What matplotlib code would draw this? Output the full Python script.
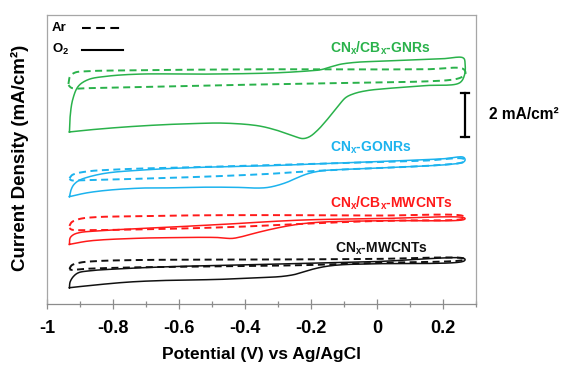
import numpy as np
import matplotlib
matplotlib.use("Agg")
import matplotlib.pyplot as plt
from matplotlib.ticker import MultipleLocator

plt.rcParams['font.family'] = ['Liberation Sans', 'DejaVu Sans']
plt.rcParams['font.weight'] = 'bold'
plt.rcParams['mathtext.fontset'] = 'custom'
plt.rcParams['mathtext.rm'] = 'Liberation Sans:bold'
plt.rcParams['mathtext.it'] = 'Liberation Sans:bold'
plt.rcParams['mathtext.bf'] = 'Liberation Sans:bold'
plt.rcParams['mathtext.default'] = 'rm'

# ---------------- data (potential V vs Ag/AgCl, current density mA/cm^2, stacked with offsets) -------------
# each loop: forward (anodic) branch left->right, then reverse (cathodic) branch right->left
GNR_O2_E = [-0.932, -0.930, -0.922, -0.905, -0.875, -0.82, -0.72, -0.52, -0.32, -0.22, -0.17, -0.14, -0.11,
            -0.06, 0.0, 0.10, 0.20, 0.262, 0.267, 0.265, 0.25, 0.15, 0.05, -0.03, -0.07, -0.095, -0.12, -0.15,
            -0.18, -0.205, -0.225, -0.25, -0.30, -0.36, -0.46, -0.56, -0.66, -0.76, -0.86, -0.932]
GNR_O2_I = [7.82, 8.5, 9.3, 9.9, 10.2, 10.35, 10.45, 10.45, 10.5, 10.58, 10.65, 10.78, 10.9,
            10.99, 11.03, 11.09, 11.15, 11.18, 10.9, 10.4, 10.05, 9.93, 9.82, 9.7, 9.56, 9.38, 8.95, 8.4,
            7.9, 7.6, 7.52, 7.62, 7.88, 8.1, 8.22, 8.2, 8.14, 8.05, 7.93, 7.82]
GNR_AR_E = [-0.935, -0.93, -0.915, -0.88, -0.76, -0.56, -0.32, -0.05, 0.15, 0.262, 0.268, 0.255, 0.23,
            0.15, -0.05, -0.35, -0.66, -0.86, -0.925, -0.935]
GNR_AR_I = [10.0, 10.35, 10.52, 10.58, 10.62, 10.65, 10.67, 10.66, 10.67, 10.68, 10.45, 10.3, 10.2,
            10.12, 10.06, 9.98, 9.88, 9.82, 9.82, 9.95]

GONR_O2_E = [-0.932, -0.928, -0.92, -0.905, -0.88, -0.82, -0.71, -0.56, -0.32, -0.20, 0.05, 0.20, 0.262,
             0.267, 0.262, 0.23, 0.05, -0.10, -0.17, -0.21, -0.24, -0.27, -0.30, -0.33, -0.36, -0.42, -0.52,
             -0.62, -0.71, -0.81, -0.88, -0.932]
GONR_O2_I = [4.88, 5.15, 5.4, 5.6, 5.75, 5.95, 6.09, 6.2, 6.29, 6.36, 6.5, 6.6, 6.67,
             6.55, 6.45, 6.36, 6.21, 6.12, 6.05, 5.92, 5.75, 5.55, 5.4, 5.3, 5.27, 5.3, 5.31,
             5.28, 5.27, 5.18, 5.05, 4.88]
GONR_AR_E = [-0.932, -0.925, -0.91, -0.87, -0.81, -0.71, -0.55, -0.31, -0.05, 0.15, 0.262, 0.267, 0.255,
             0.20, 0.10, -0.05, -0.22, -0.32, -0.50, -0.66, -0.80, -0.90, -0.925, -0.932]
GONR_AR_I = [5.72, 5.85, 5.94, 6.04, 6.1, 6.16, 6.22, 6.32, 6.43, 6.52, 6.6, 6.5, 6.42,
             6.33, 6.24, 6.15, 6.02, 5.92, 5.8, 5.72, 5.66, 5.62, 5.62, 5.68]

CBMW_O2_E = [-0.932, -0.93, -0.92, -0.90, -0.85, -0.76, -0.62, -0.42, -0.32, -0.20, 0.0, 0.262, 0.267,
             0.262, 0.05, -0.05, -0.16, -0.22, -0.27, -0.32, -0.37, -0.41, -0.44, -0.48, -0.52, -0.60,
             -0.72, -0.87, -0.932]
CBMW_O2_I = [2.71, 3.0, 3.15, 3.25, 3.32, 3.4, 3.5, 3.66, 3.75, 3.83, 3.88, 3.93, 3.88,
             3.83, 3.79, 3.77, 3.73, 3.66, 3.55, 3.4, 3.22, 3.06, 2.98, 3.02, 3.03, 3.02,
             2.99, 2.87, 2.71]
CBMW_AR_E = [-0.932, -0.925, -0.90, -0.85, -0.72, -0.55, -0.32, 0.0, 0.262, 0.267, 0.25, 0.10, -0.01,
             -0.20, -0.32, -0.50, -0.66, -0.86, -0.925, -0.932]
CBMW_AR_I = [3.55, 3.72, 3.87, 3.95, 3.99, 4.03, 4.04, 4.02, 4.0, 3.92, 3.84, 3.8, 3.77,
             3.66, 3.57, 3.47, 3.41, 3.36, 3.38, 3.45]

MW_O2_E = [-0.932, -0.93, -0.92, -0.905, -0.87, -0.78, -0.62, -0.40, -0.21, 0.0, 0.262, 0.267,
           0.262, 0.0, -0.10, -0.15, -0.19, -0.22, -0.25, -0.29, -0.35, -0.42, -0.50, -0.62, -0.75,
           -0.87, -0.932]
MW_O2_I = [0.74, 1.0, 1.25, 1.42, 1.51, 1.6, 1.7, 1.78, 1.85, 1.93, 2.08, 2.02,
           1.94, 1.83, 1.79, 1.72, 1.6, 1.47, 1.34, 1.25, 1.2, 1.15, 1.11, 1.08, 1.0,
           0.84, 0.74]
MW_AR_E = [-0.932, -0.925, -0.90, -0.85, -0.72, -0.40, -0.21, 0.0, 0.262, 0.267, 0.25, 0.0, -0.21,
           -0.50, -0.72, -0.88, -0.925, -0.932]
MW_AR_I = [1.6, 1.76, 1.88, 1.95, 2.0, 2.02, 2.03, 2.05, 2.08, 2.03, 1.97, 1.87, 1.77,
           1.71, 1.67, 1.6, 1.55, 1.58]

SAMPLES = ["CN$_x$/CB$_x$-GNRs", "CN$_x$-GONRs", "CN$_x$/CB$_x$-MWCNTs", "CN$_x$-MWCNTs"]
COLORS = ["#2ab24b", "#1cb3ee", "#ff1a1a", "#111111"]
LABEL_POS = [(-0.142, 11.62), (-0.142, 7.1), (-0.142, 4.57), (-0.127, 2.52)]
SCALE_BAR = 2.0  # mA/cm^2

XTICKS = [-1, -0.8, -0.6, -0.4, -0.2, 0, 0.2]
XTICKLABELS = ["-1", "-0.8", "-0.6", "-0.4", "-0.2", "0", "0.2"]


def smooth(x, y, n=14, sx=330.0, sy=22.0):
    P = np.column_stack([np.asarray(x) * sx, np.asarray(y) * sy])
    P = np.vstack([2 * P[0] - P[1], P, 2 * P[-1] - P[-2]])
    out = []
    for i in range(len(P) - 3):
        p0, p1, p2, p3 = P[i], P[i + 1], P[i + 2], P[i + 3]
        def tj(ti, a, b):
            return ti + max(np.linalg.norm(b - a), 1e-6) ** 0.5
        t0 = 0.0
        t1 = tj(t0, p0, p1)
        t2 = tj(t1, p1, p2)
        t3 = tj(t2, p2, p3)
        t = np.linspace(t1, t2, n)[:, None]
        A1 = (t1 - t) / (t1 - t0) * p0 + (t - t0) / (t1 - t0) * p1
        A2 = (t2 - t) / (t2 - t1) * p1 + (t - t1) / (t2 - t1) * p2
        A3 = (t3 - t) / (t3 - t2) * p2 + (t - t2) / (t3 - t2) * p3
        B1 = (t2 - t) / (t2 - t0) * A1 + (t - t0) / (t2 - t0) * A2
        B2 = (t3 - t) / (t3 - t1) * A2 + (t - t1) / (t3 - t1) * A3
        C = (t2 - t) / (t2 - t1) * B1 + (t - t1) / (t2 - t1) * B2
        out.append(C if i == 0 else C[1:])
    C = np.vstack(out)
    return C[:, 0] / sx, C[:, 1] / sy


fig = plt.figure(figsize=(5.63, 3.68), dpi=100)
ax = fig.add_axes([47 / 563, 64 / 368, 429 / 563, 289 / 368])

curves = [(GNR_O2_E, GNR_O2_I, GNR_AR_E, GNR_AR_I),
          (GONR_O2_E, GONR_O2_I, GONR_AR_E, GONR_AR_I),
          (CBMW_O2_E, CBMW_O2_I, CBMW_AR_E, CBMW_AR_I),
          (MW_O2_E, MW_O2_I, MW_AR_E, MW_AR_I)]

DASH = (3.6, 2.3)
for (eo, io, ea, ia), col, name, pos in zip(curves, COLORS, SAMPLES, LABEL_POS):
    xs, ys = smooth(ea, ia)
    ax.plot(xs, ys, color=col, lw=1.4, dashes=DASH)
    xs, ys = smooth(eo, io)
    ax.plot(xs, ys, color=col, lw=1.1)
    ax.text(pos[0], pos[1], name, color=col, fontsize=10, fontweight='bold', ha='left', va='center')

# legend (manual)
ax.text(-0.985, 12.55, "Ar", fontsize=9.5, fontweight='bold', ha='left', va='center')
ax.plot([-0.893, -0.779], [12.55, 12.55], color='black', lw=1.5, dashes=(4.2, 2.6))
ax.text(-0.985, 11.55, "O$_2$", fontsize=9.5, fontweight='bold', ha='left', va='center')
ax.plot([-0.893, -0.770], [11.55, 11.55], color='black', lw=1.5)

# scale bar
bar_x = 0.267
bar_lo = 7.6
ax.plot([bar_x, bar_x], [bar_lo, bar_lo + SCALE_BAR], color='black', lw=1.6)
for yy in (bar_lo, bar_lo + SCALE_BAR):
    ax.plot([bar_x - 0.012, bar_x + 0.012], [yy, yy], color='black', lw=1.6)
ax.text(0.3396, bar_lo + SCALE_BAR / 2, "2 mA/cm\u00b2", fontsize=11.2, fontweight='bold',
        ha='left', va='center', clip_on=False)

ax.set_xlim(-1.0, 0.3)
ax.set_ylim(0, 289 / 22)
ax.set_yticks([])
ax.set_xticks(XTICKS)
ax.set_xticklabels(XTICKLABELS, fontsize=13, fontweight='bold')
ax.xaxis.set_minor_locator(MultipleLocator(0.1))
ax.tick_params(axis='x', which='major', direction='inout', length=7, width=0.9, color='#8c8c8c', pad=8)
ax.tick_params(axis='x', which='minor', direction='inout', length=4.5, width=0.9, color='#8c8c8c')
for s in ax.spines.values():
    s.set_color('#a6a6a6')
    s.set_linewidth(0.9)
ax.spines['bottom'].set_color('#8c8c8c')

fig.text(261.5 / 563, 1 - 355 / 368, "Potential (V) vs Ag/AgCl", fontsize=12.5, fontweight='bold',
         ha='center', va='center')
fig.text(20 / 563, 1 - 158 / 368, "Current Density (mA/cm\u00b2)", fontsize=13.5, fontweight='bold',
         ha='center', va='center', rotation=90)

fig.savefig("out.png", dpi=100)
